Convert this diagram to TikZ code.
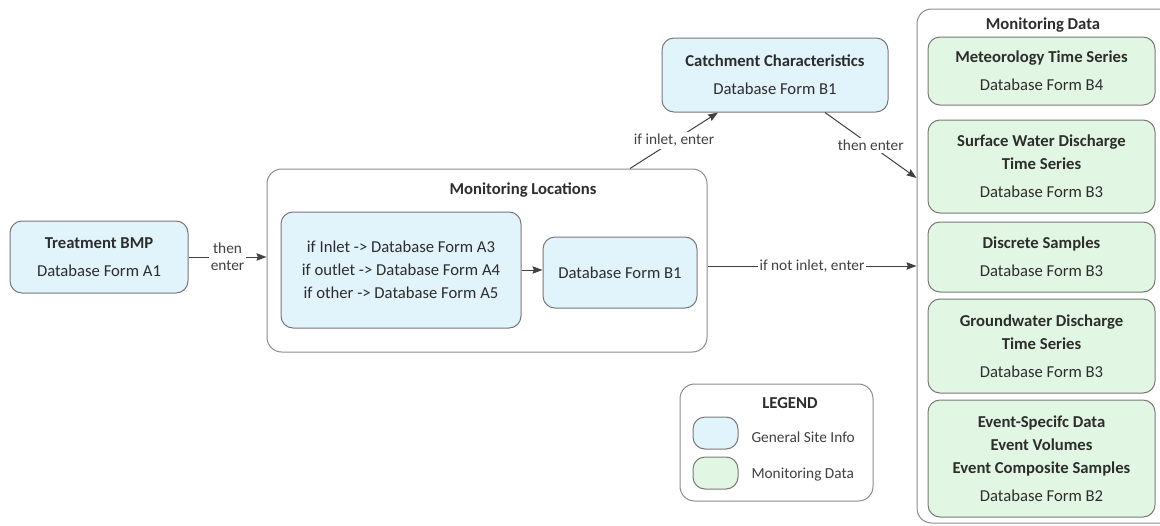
\documentclass[tikz,border=0pt]{standalone}
\usepackage{fontspec}
\setmainfont{Carlito}
\usepackage{tikz}
\usetikzlibrary{arrows.meta,calc}
\definecolor{siteblue}{RGB}{225,243,251}
\definecolor{datagreen}{RGB}{226,247,227}
\definecolor{boxgray}{RGB}{120,120,120}
\definecolor{textgray}{RGB}{45,45,45}
\definecolor{arrowgray}{RGB}{64,64,64}
\tikzset{sz/.style 2 args={minimum width=#1*0.75pt,minimum height=#2*0.75pt}}

\begin{document}
\begin{tikzpicture}[x=0.75pt,y=-0.75pt,>={Stealth[length=7.5pt,width=5.5pt,inset=1pt]},line width=0.75pt]
 \tikzstyle{box}=[draw=boxgray,rounded corners=9pt,inner sep=0pt,align=center,text=textgray,font=\fontsize{12.5}{17.25}\selectfont]
 \tikzstyle{sitebox}=[box,fill=siteblue]
 \tikzstyle{databox}=[box,fill=datagreen]
 \tikzstyle{group}=[draw=boxgray!85,rounded corners=11pt,fill=white,inner sep=0pt]
 \tikzstyle{title}=[text=textgray,font=\bfseries\fontsize{12.5}{15}\selectfont]
 \tikzstyle{elabel}=[fill=white,inner sep=1.5pt,align=center,text=arrowgray,font=\fontsize{11.5}{13}\selectfont]
 \tikzstyle{legtext}=[anchor=west,inner sep=0pt,text=arrowgray,font=\fontsize{11.5}{13}\selectfont]

 \clip (0,0) rectangle (1160,525);

   \node[sitebox,sz={178}{72}] (bmp) at (99,257) {{\bfseries Treatment BMP}\\[3.5pt]Database Form A1};

   \node[group,sz={440}{183}] (locs) at (487,260.5) {};
   \node[title] (locstitle) at (523,190) {Monitoring Locations};
   \node[sitebox,sz={240}{116}] (sel) at (401,270) {if Inlet -> Database Form A3\\if outlet -> Database Form A4\\if other -> Database Form A5};
   \node[sitebox,sz={154}{71}] (locb1) at (620,272.5) {Database Form B1};

   \node[sitebox,sz={226}{74}] (catch) at (775,75) {{\bfseries Catchment Characteristics}\\[3.5pt]Database Form B1};

   \node[group,sz={258}{514}] (data) at (1046,266) {};
   \node[title] (datatitle) at (1043,25) {Monitoring Data};
   \node[databox,sz={227}{68}] (met) at (1041.5,71) {{\bfseries Meteorology Time Series}\\[3.5pt]Database Form B4};
   \node[databox,sz={227}{93}] (swd) at (1041.5,166.5) {{\bfseries Surface Water Discharge}\\{\bfseries Time Series}\\[3.5pt]Database Form B3};
   \node[databox,sz={227}{70}] (disc) at (1041.5,257) {{\bfseries Discrete Samples}\\[3.5pt]Database Form B3};
   \node[databox,sz={227}{94}] (gwd) at (1041.5,346) {{\bfseries Groundwater Discharge}\\{\bfseries Time Series}\\[3.5pt]Database Form B3};
   \node[databox,sz={227}{117}] (evt) at (1041.5,458.5) {{\bfseries Event-Specifc Data}\\{\bfseries Event Volumes}\\{\bfseries Event Composite Samples}\\[3.5pt]Database Form B2};

   % legend
   \node[group,sz={193}{117}] (legend) at (776.5,442.5) {};
   \node[title] (legtitle) at (790,403) {LEGEND};
   \node[sitebox,sz={45}{32}] (swblue) at (715.5,433) {};
   \node[databox,sz={45}{32}] (swgreen) at (715.5,473) {};
   \node[legtext] (legblue) at (751,437) {General Site Info};
   \node[legtext] (leggreen) at (751,475) {Monitoring Data};

  \path[->,color=arrowgray]
    (bmp.east) edge node[elabel] {then\\enter} (bmp.east -| locs.west)
    (sel.east) edge (sel.east -| locb1.west)
    ($(locs.north)+(143,0)$) edge node[elabel] {if inlet, enter} ($(catch.south)+(-57,0)$)
    ($(catch.south)+(50,0)$) edge node[elabel] {then enter} ($(data.west)+(0,-88)$)
    (locs.east |- data.west) edge node[elabel] {if not inlet, enter} (data.west);

\end{tikzpicture}
\end{document}
